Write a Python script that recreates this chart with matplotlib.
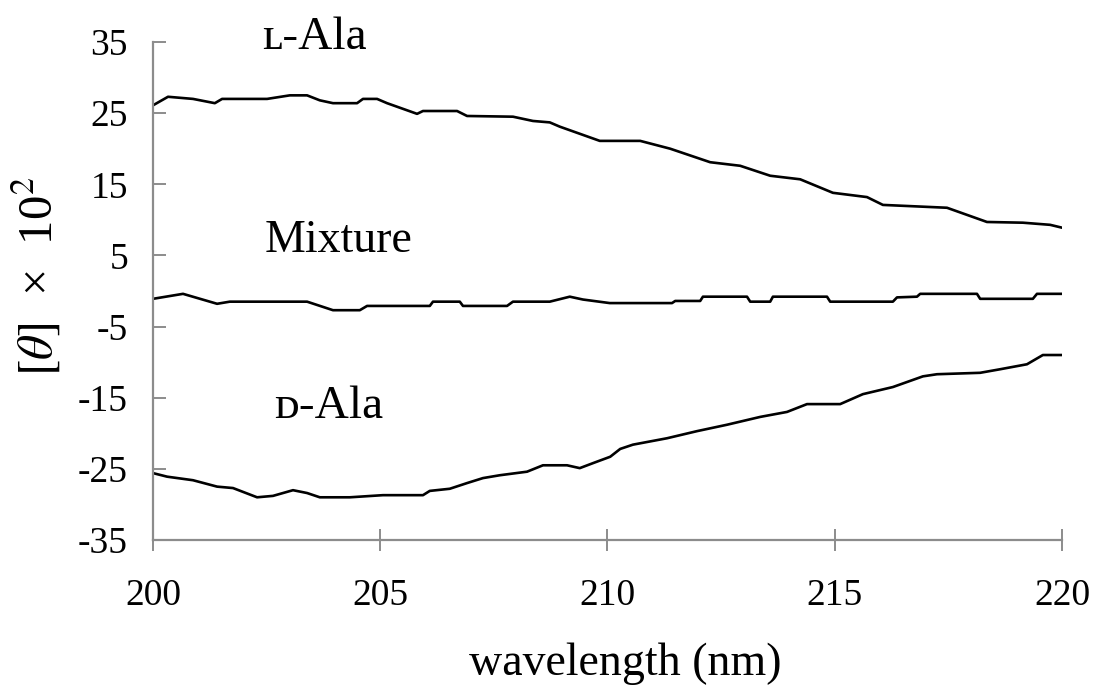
import numpy as np
import matplotlib.pyplot as plt

#%% datos (longitud de onda en nm, [theta] x 10^2)

x_L = [200.0, 200.33, 200.88, 201.36, 201.52, 202.51, 203.01, 203.39, 203.67, 203.96,
       204.49, 204.62, 204.93, 205.15, 205.81, 205.94, 206.69, 206.91, 207.92, 208.36,
       208.73, 208.95, 209.83, 210.72, 211.38, 212.26, 212.92, 213.58, 214.24, 214.96,
       215.71, 216.06, 217.47, 218.35, 219.14, 219.74, 220.0]
y_L = [26.1, 27.3, 27.0, 26.4, 27.0, 27.0, 27.5, 27.5, 26.8, 26.4,
       26.4, 27.0, 27.0, 26.4, 24.9, 25.3, 25.3, 24.6, 24.5, 23.9,
       23.7, 23.1, 21.1, 21.1, 20.0, 18.1, 17.6, 16.2, 15.7, 13.8,
       13.2, 12.1, 11.7, 9.7, 9.6, 9.3, 8.9]

x_mix = [200.0, 200.66, 201.41, 201.69, 203.39, 203.96, 204.55, 204.71, 206.09, 206.16,
         206.75, 206.82, 207.79, 207.92, 208.73, 209.17, 209.46, 210.05, 211.42, 211.49,
         212.04, 212.10, 213.07, 213.14, 213.58, 213.64, 214.83, 214.90, 216.28, 216.37,
         216.81, 216.88, 218.13, 218.20, 219.36, 219.45, 220.0]
y_mix = [-1.1, -0.4, -1.8, -1.5, -1.5, -2.7, -2.7, -2.1, -2.1, -1.5,
         -1.5, -2.1, -2.1, -1.5, -1.5, -0.8, -1.2, -1.7, -1.7, -1.4,
         -1.4, -0.8, -0.8, -1.5, -1.5, -0.8, -0.8, -1.5, -1.5, -0.9,
         -0.8, -0.4, -0.4, -1.1, -1.1, -0.4, -0.4]

x_D = [200.0, 200.31, 200.88, 201.41, 201.76, 202.29, 202.64, 203.08, 203.39, 203.67,
       204.33, 205.06, 205.94, 206.09, 206.53, 206.91, 207.26, 207.63, 208.23, 208.58,
       209.11, 209.39, 209.68, 210.06, 210.28, 210.56, 211.31, 211.97, 212.63, 213.36,
       213.95, 214.39, 215.12, 215.62, 216.28, 216.94, 217.25, 218.20, 218.64, 219.23,
       219.58, 220.0]
y_D = [-25.6, -26.1, -26.6, -27.5, -27.7, -29.0, -28.8, -28.0, -28.4, -29.0,
       -29.0, -28.7, -28.7, -28.1, -27.8, -27.0, -26.3, -25.9, -25.4, -24.5,
       -24.5, -24.9, -24.2, -23.3, -22.2, -21.6, -20.7, -19.7, -18.8, -17.7,
       -17.0, -15.9, -15.9, -14.5, -13.5, -12.0, -11.7, -11.5, -11.0, -10.3,
       -9.0, -9.0]

xticks = [200, 205, 210, 215, 220]
yticks = [-35, -25, -15, -5, 5, 15, 25, 35]

#%% grafico

plt.rcParams['font.family'] = ['Liberation Serif', 'DejaVu Serif']
plt.rcParams['mathtext.fontset'] = 'stix'
plt.rcParams['axes.unicode_minus'] = False

fig = plt.figure(figsize=(10.93, 6.93), dpi=100)
ax = fig.add_axes([0.14, 0.2208, 0.8316, 0.7186])

gris = '#8c8c8c'
for xx, yy in [(x_L, y_L), (x_mix, y_mix), (x_D, y_D)]:
    ax.plot(xx, yy, color='black', lw=1.9, solid_joinstyle='round')

ax.set_xlim(200, 220)
ax.set_ylim(-35, 35)
ax.set_xticks(xticks)
ax.set_yticks(yticks)

for lado in ['top', 'right']:
    ax.spines[lado].set_visible(False)
for lado in ['left', 'bottom']:
    ax.spines[lado].set_color(gris)
    ax.spines[lado].set_linewidth(1.6)

ax.tick_params(axis='y', direction='in', length=9, width=1.4, color=gris,
               labelsize=27, pad=18)
ax.tick_params(axis='x', direction='inout', length=16, width=1.4, color=gris,
               labelsize=27, pad=20)

ax.set_xlabel('wavelength (nm)', fontsize=33)
ax.xaxis.set_label_coords(0.519, -0.205)
ax.set_ylabel(r'$[\theta]$  ×  10$^2$', fontsize=35)
ax.yaxis.set_label_coords(-0.1, 0.53)

ax.text(203.56, 34.0, 'ʟ-Ala', fontsize=34, ha='center', va='baseline')
ax.text(204.09, 5.5, 'Mixture', fontsize=33, ha='center', va='baseline')
ax.text(203.87, -17.85, 'ᴅ-Ala', fontsize=34, ha='center', va='baseline')

plt.savefig('out.png', dpi=100)
